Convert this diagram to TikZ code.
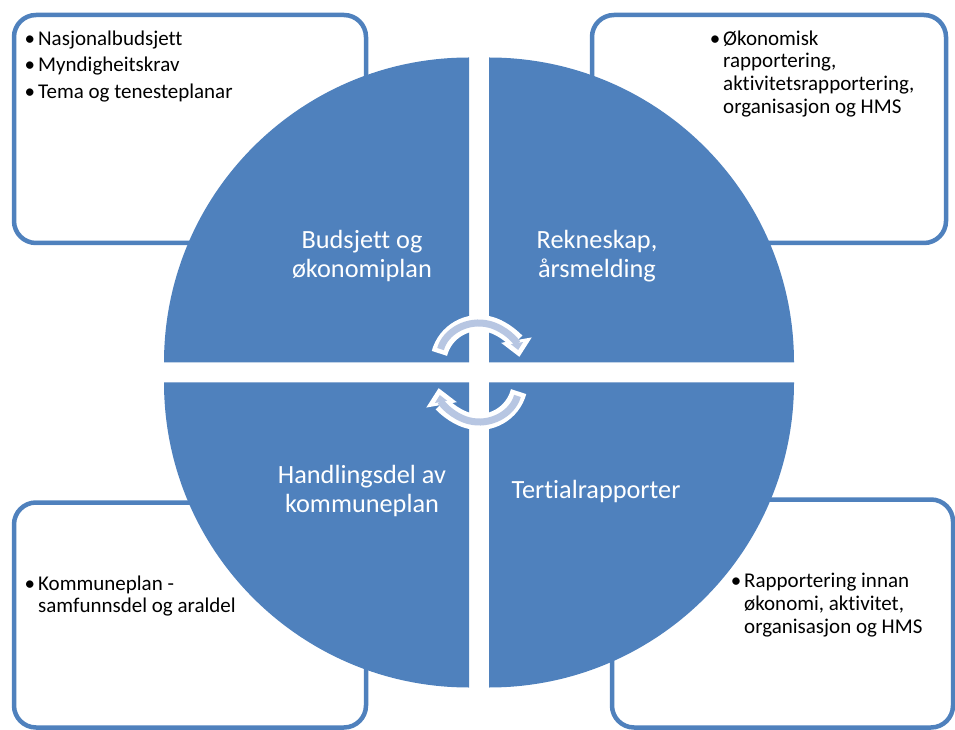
\documentclass[tikz,border=0pt]{standalone}
\usepackage{fontspec}
\setmainfont{Carlito}[Ligatures=NoCommon]
\usepackage{tikz}
\usetikzlibrary{arrows.meta}

\definecolor{pieblue}{HTML}{4F81BD}
\definecolor{ringfill}{HTML}{B7C6E2}

\tikzset{
  notebox/.style={draw=pieblue, line width=4.5pt, fill=white, rounded corners=22pt, rectangle},
  notetext/.style={anchor=north west, inner sep=0pt, align=left, font=\fontsize{21}{22.7}\selectfont},
  quadlabel/.style={text=white, inner sep=0pt, align=center, font=\fontsize{26.3}{29}\selectfont},
  ringout/.style={draw=white, line width=16pt, -{Triangle[length=17pt, width=30pt]}},
  ringin/.style={draw=ringfill, line width=7pt, shorten <=4.5pt, shorten >=7pt, -{Triangle[length=7pt, width=12pt]}},
}
\newcommand{\itm}{\llap{\textbullet\hspace{3pt}}}

\begin{document}
\begin{tikzpicture}[x=1pt, y=1pt]
\useasboundingbox (0,0) rectangle (955,729);

% Boxes behind the circle
\node (box1) [notebox, minimum width=352pt, minimum height=228pt] at (190,600) {};
\node (box2) [notebox, minimum width=354pt, minimum height=228pt] at (769,600) {};
\node (box3) [notebox, minimum width=352pt, minimum height=225pt] at (190,114) {};
\node (box4) [notebox, minimum width=341pt, minimum height=228pt] at (782.5,115.5) {};

% Circle in four parts
\coordinate (hub) at (479,356.5);
\fill[white] (hub) circle[radius=313];
\fill[pieblue] ([shift={(-10,10)}]hub) -- ++(-305,0) arc[start angle=180, end angle=90, radius=305] -- cycle;
\fill[pieblue] ([shift={(10,10)}]hub) -- ++(0,305) arc[start angle=90, end angle=0, radius=305] -- cycle;
\fill[pieblue] ([shift={(10,-10)}]hub) -- ++(305,0) arc[start angle=0, end angle=-90, radius=305] -- cycle;
\fill[pieblue] ([shift={(-10,-10)}]hub) -- ++(0,-305) arc[start angle=270, end angle=180, radius=305] -- cycle;

% Labels
\node (lab1) [quadlabel] at (362,473) {Budsjett og\\økonomiplan};
\node (lab2) [quadlabel] at (597,473) {Rekneskap,\\årsmelding};
\node (lab3) [quadlabel] at (362,238) {Handlingsdel av\\kommuneplan};
\node (lab4) [quadlabel, anchor=base] at (596,231) {Tertialrapporter};

% Box texts
\node (txt1) [notetext] at (38,698.6) {\itm Nasjonalbudsjett\\[3.8pt]\itm Myndigheitskrav\\[3.8pt]\itm Tema og tenesteplanar};
\node (txt2) [notetext] at (723,698.6) {\itm Økonomisk\\rapportering,\\aktivitetsrapportering,\\organisasjon og HMS};
\node (txt3) [notetext] at (38,153.6) {\itm Kommuneplan -\\samfunnsdel og araldel};
\node (txt4) [notetext] at (744,156) {\itm Rapportering innan\\økonomi, aktivitet,\\organisasjon og HMS};

% Cycle arrows
\coordinate (topc) at (479,365);
\coordinate (botc) at (479,348);
\draw[ringout] ([shift={(165:41)}]topc) arc[start angle=165, end angle=10, radius=41];
\draw[ringin] ([shift={(165:41)}]topc) arc[start angle=165, end angle=10, radius=41];
\draw[ringout] ([shift={(345:41)}]botc) arc[start angle=345, end angle=190, radius=41];
\draw[ringin] ([shift={(345:41)}]botc) arc[start angle=345, end angle=190, radius=41];

\end{tikzpicture}
\end{document}
